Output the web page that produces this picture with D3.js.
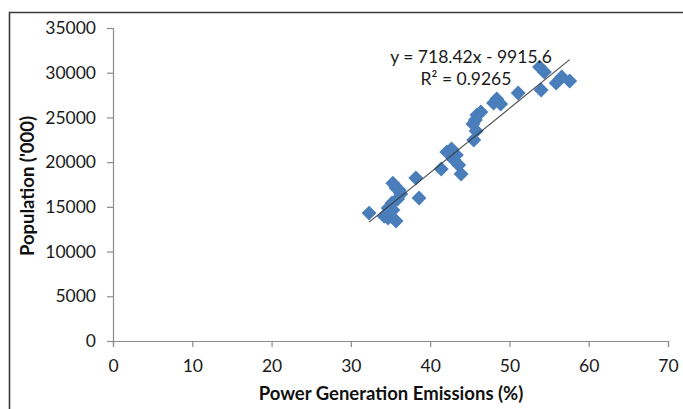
<!DOCTYPE html>
<html><head><meta charset="utf-8">
<script src="https://cdn.jsdelivr.net/npm/d3@7"></script>
<style>
html,body{margin:0;padding:0;background:#fff;}
svg{display:block;}
text{font-family:Lato,"Open Sans",sans-serif;}
</style></head>
<body>
<script>
const emissions = [32.3,34.2,34.7,35.7,35.3,35.7,36.1,36.3,35.9,35.2,34.7,35.3,38.2,38.6,41.4,42.1,42.7,43.3,43.0,43.6,43.9,45.5,45.8,45.4,45.7,45.9,46.4,48.0,48.4,48.9,51.1,54.0,53.8,54.4,55.9,56.6,57.6];
const population = [14300,13960,13750,13420,17650,17100,16880,16440,15880,15430,14870,14650,18230,15990,19230,21130,21470,20800,20240,19680,18670,22480,23480,24260,24710,25270,25610,26610,27050,26500,27730,28070,30640,30080,28850,29520,29070];
const xTicks = [0,10,20,30,40,50,60,70];
const yTicks = [0,5000,10000,15000,20000,25000,30000,35000];
const slope = 718.42, intercept = -9915.6;
const eqText = "y = 718.42x - 9915.6";
const r2Text = "R² = 0.9265";
const xTitle = "Power Generation Emissions (%)";
const yTitle = "Population ('000)";

const W = 683, H = 409;
const svg = d3.select("body").append("svg").attr("width", W).attr("height", H);

// outer frame
svg.append("path").attr("d", `M9.5,${H} V12.5 H${W}`).attr("fill","none").attr("stroke","#3a3a3a").attr("stroke-width",1.6);

const x = d3.scaleLinear().domain([0,70]).range([113,668]);
const y = d3.scaleLinear().domain([0,35000]).range([341,28]);

const axisColor = "#8c8c8c";
const gx = svg.append("g").attr("transform","translate(0,341)")
  .call(d3.axisBottom(x).tickValues(xTicks).tickSize(6).tickPadding(13).tickFormat(d3.format("d")));
const gy = svg.append("g").attr("transform","translate(113,0)")
  .call(d3.axisLeft(y).tickValues(yTicks).tickSize(6).tickPadding(11).tickFormat(d3.format("d")));
[gx,gy].forEach(g=>{
  g.select(".domain").attr("stroke",axisColor).attr("stroke-width",1.2);
  g.selectAll(".tick line").attr("stroke",axisColor).attr("stroke-width",1.2);
  g.selectAll(".tick text").attr("fill","#1a1a1a").style("font-size","17.5px").style("font-family","Lato,'Open Sans',sans-serif");
});
gy.select(".domain").attr("d", "M-6,28.5H0.5V347");
gx.select(".domain").attr("d", "M113,0.5H668.5V6");

// points
const sym = d3.symbol().type(d3.symbolSquare).size(112);
svg.append("g").selectAll("path").data(emissions.map((e,i)=>[e,population[i]]))
  .join("path").attr("d", sym)
  .attr("transform", d=>`translate(${x(d[0])},${y(d[1])}) rotate(45)`)
  .attr("fill","#4a7ebb");

// trendline
const xmin = d3.min(emissions), xmax = d3.max(emissions);
svg.append("line")
  .attr("x1", x(xmin)).attr("y1", y(slope*xmin+intercept))
  .attr("x2", x(xmax)).attr("y2", y(slope*xmax+intercept))
  .attr("stroke","#333").attr("stroke-width",1.2).attr("opacity",0.85);

svg.append("text").attr("x",471).attr("y",63).attr("text-anchor","middle")
  .style("font-size","17.5px").attr("fill","#1a1a1a").text(eqText);
svg.append("text").attr("x",466).attr("y",85).attr("text-anchor","middle")
  .style("font-size","17.5px").attr("fill","#1a1a1a").text(r2Text);

svg.append("text").attr("x",391).attr("y",400).attr("text-anchor","middle")
  .style("font-size","18.5px").style("font-weight","bold").attr("fill","#111").text(xTitle);
svg.append("text").attr("transform","translate(34,186) rotate(-90)").attr("text-anchor","middle")
  .style("font-size","18.5px").style("font-weight","bold").attr("fill","#111").text(yTitle);
</script>
</body></html>
